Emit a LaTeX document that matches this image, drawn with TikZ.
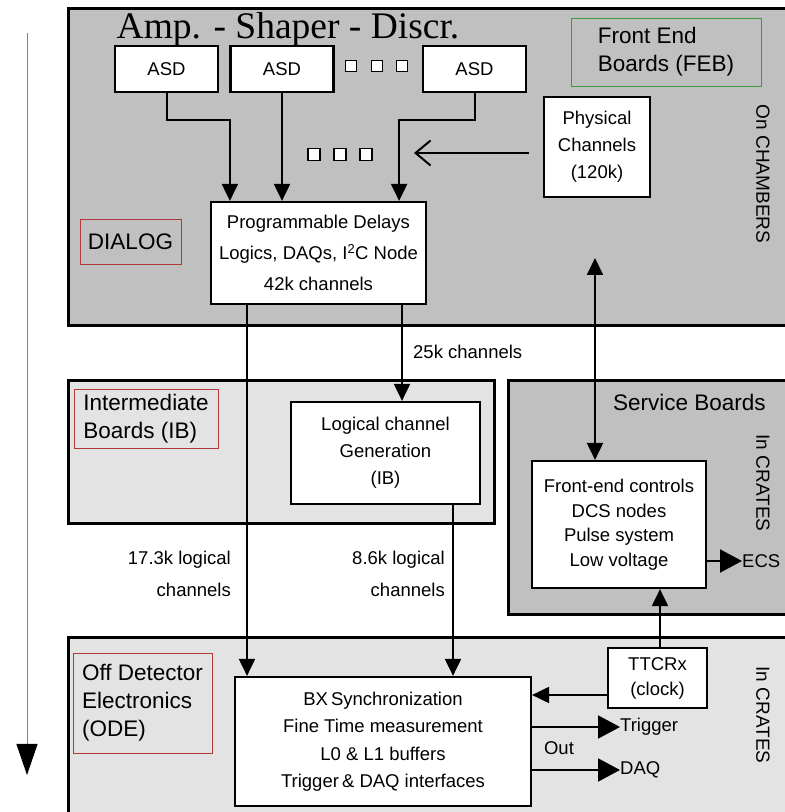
\documentclass[tikz,border=0pt]{standalone}
\usepackage{fontspec}
\setmainfont{Liberation Sans}
\newfontfamily\titlefont{Liberation Serif}
\usetikzlibrary{arrows.meta,positioning,calc}
\definecolor{TGPanel}{HTML}{C0C0C0}
\definecolor{TGPanelLite}{HTML}{E3E3E3}
\definecolor{TGRed}{HTML}{B03A3A}
\definecolor{TGGreen}{HTML}{3C9B3C}
\definecolor{TGLine}{HTML}{808080}
\tikzset{
  flow/.style={-{Triangle[length=17pt,width=16pt]},line width=2pt},
  flowout/.style={-{Triangle[length=22pt,width=23pt]},line width=2pt},
  flowboth/.style={{Triangle[length=17pt,width=16pt]}-{Triangle[length=17pt,width=16pt]},line width=2pt},
  flowopen/.style={-{Straight Barb[length=15pt,width=25pt]},line width=2pt},
  panel/.style={draw=black,line width=2.6pt,fill=TGPanel,anchor=north west,inner sep=0pt},
  panellite/.style={panel,fill=TGPanelLite},
  block/.style={draw=black,line width=2.2pt,fill=white,align=center,inner sep=0pt,
                font=\fontsize{18.5}{27}\selectfont},
  tag/.style={draw=TGRed,line width=0.8pt,align=left,inner sep=0pt,
              font=\fontsize{22.5}{28}\selectfont},
  taggreen/.style={tag,draw=TGGreen},
  dot/.style={draw=black,line width=1.8pt,fill=white,minimum size=11pt,inner sep=0pt},
  side/.style={rotate=-90,font=\fontsize{19}{22}\selectfont},
  note/.style={font=\fontsize{18.5}{32}\selectfont,align=right,inner sep=0pt},
}

\begin{document}
\begin{tikzpicture}[x=1pt,y=1pt,font=\fontsize{18.5}{22}\selectfont]
    \useasboundingbox (0,0) rectangle (785,812);
    \clip (0,0) rectangle (785,812);

    % panels
    \node[panel,minimum width=740,minimum height=317] (feb) at (67,805) {};
    \node[panellite,minimum width=426,minimum height=143] (ib) at (67,433) {};
    \node[panel,minimum width=300,minimum height=234] (sb) at (507,433) {};
    \node[panellite,minimum width=740,minimum height=200] (ode) at (67,176) {};

    % front end boards
    \node[block,minimum width=103,minimum height=46] (asda) at (166.5,743) {ASD};
    \node[block,minimum width=103,minimum height=46] (asdb) at (282,743) {ASD};
    \node[block,minimum width=103,minimum height=46] (asdc) at (474.5,743) {ASD};
    \foreach \i/\x in {1/351,2/377,3/402}
      \node[dot] (topdot\i) at (\x,746) {};
    \foreach \i/\x in {1/314,2/340,3/366}
      \node[dot,minimum size=12pt] (middot\i) at (\x,657.5) {};
    \node[block,minimum width=215,minimum height=102,font=\fontsize{18.5}{31}\selectfont] (pd)
      at (318.5,559) {Programmable Delays\\Logics, DAQs, I\textsuperscript{2}C Node\\42k channels};
    \node[block,minimum width=106,minimum height=100] (phys) at (597,665)
      {Physical\\Channels\\(120k)};
    \node[taggreen,minimum width=190,minimum height=68] (febtag) at (666,760)
      {Front End\\Boards (FEB)};
    \node[tag,minimum width=101,minimum height=45,align=center] (dialog) at (130.5,570.5) {DIALOG};
    \node[side] (chambers) at (763,638) {On CHAMBERS};
    \node[font=\titlefont\fontsize{37.5}{40}\selectfont,anchor=base,inner sep=0pt] (title)
      at (288,773) {Amp. - Shaper - Discr.};

    \draw[flow] (asda.south) -- ++(0,-27) -| ([xshift=20pt]pd.north west);
    \draw[flow] (asdb.south) -- (asdb.south |- pd.north);
    \draw[flow] (asdc.south) -- ++(0,-27) -| ([xshift=-28pt]pd.north east);
    \coordinate (physto) at (414,659);
    \draw[flowopen] ($(physto -| phys.west)+(-14,0)$) -- (physto);

    % intermediate boards
    \node[block,minimum width=189,minimum height=102] (lc) at (385.5,359)
      {Logical channel\\Generation\\(IB)};
    \node[tag,minimum width=144,minimum height=59] (ibtag) at (146,393.5)
      {Intermediate\\Boards (IB)};
    \draw[flow] ([xshift=83.5pt]pd.south) -- ([xshift=83.5pt]pd.south |- lc.north);
    \node[anchor=west,inner sep=0pt] (chan25) at (413,460) {25k channels};

    % service boards
    \node[block,minimum width=174,minimum height=127,font=\fontsize{18.5}{24.5}\selectfont] (fe)
      at (619,287.5) {Front-end controls\\DCS nodes\\Pulse system\\Low voltage};
    \node[font=\fontsize{22.5}{26}\selectfont] (sbhead) at (689.5,410) {Service Boards};
    \node[side] (cratessb) at (763,329) {In CRATES};
    \coordinate (physlink) at (595,554);
    \draw[flowboth] (physlink) -- (physlink |- fe.north);
    \node[anchor=west,inner sep=0pt] (ecs) at (742,251) {ECS};
    \draw[flowout] (fe.east |- ecs) -- (ecs.west);

    % off detector electronics
    \node[block,minimum width=296,minimum height=129,font=\fontsize{18.5}{27.5}\selectfont] (bx)
      at (383,70.5) {BX\,Synchronization\\Fine Time measurement\\L0 \& L1 buffers\\Trigger\,\& DAQ interfaces};
    \node[tag,minimum width=139,minimum height=100] (odetag) at (142.5,109)
      {Off Detector\\Electronics\\(ODE)};
    \node[block,minimum width=99,minimum height=60,font=\fontsize{18.5}{25}\selectfont] (ttc)
      at (657.5,134) {TTCRx\\(clock)};
    \node[side] (cratesode) at (763,97) {In CRATES};
    \draw[flow] ([xshift=2.5pt]ttc.north) -- ([xshift=2.5pt]ttc.north |- fe.south);
    \draw[flow] ([yshift=-17pt]ttc.west) -- ([yshift=-17pt]ttc.west -| bx.east);
    \node[anchor=west,inner sep=0pt] (trig) at (620,85) {Trigger};
    \node[anchor=west,inner sep=0pt] (daq) at (620,42) {DAQ};
    \draw[flowout] (bx.east |- trig) -- (trig.west);
    \draw[flowout] (bx.east |- daq) -- (daq.west);
    \node (out) at (559,64) {Out};

    % channel links down to the ODE
    \draw[flow] ([xshift=-71.5pt]pd.south) -- ([xshift=-71.5pt]pd.south |- bx.north);
    \draw[flow] ([xshift=67.5pt]lc.south) -- ([xshift=67.5pt]lc.south |- bx.north);
    \node[note,anchor=east] (lab173) at (231,238) {17.3k logical\\channels};
    \node[note,anchor=east] (lab86) at (445,238) {8.6k logical\\channels};

    % data direction
    \coordinate (flowtop) at (27,779);
    \coordinate (flowbot) at (27,37);
    \draw[TGLine,line width=1pt,-{Triangle[length=31pt,width=21pt,color=black]}] (flowtop) -- (flowbot);
  \end{tikzpicture}
\end{document}
